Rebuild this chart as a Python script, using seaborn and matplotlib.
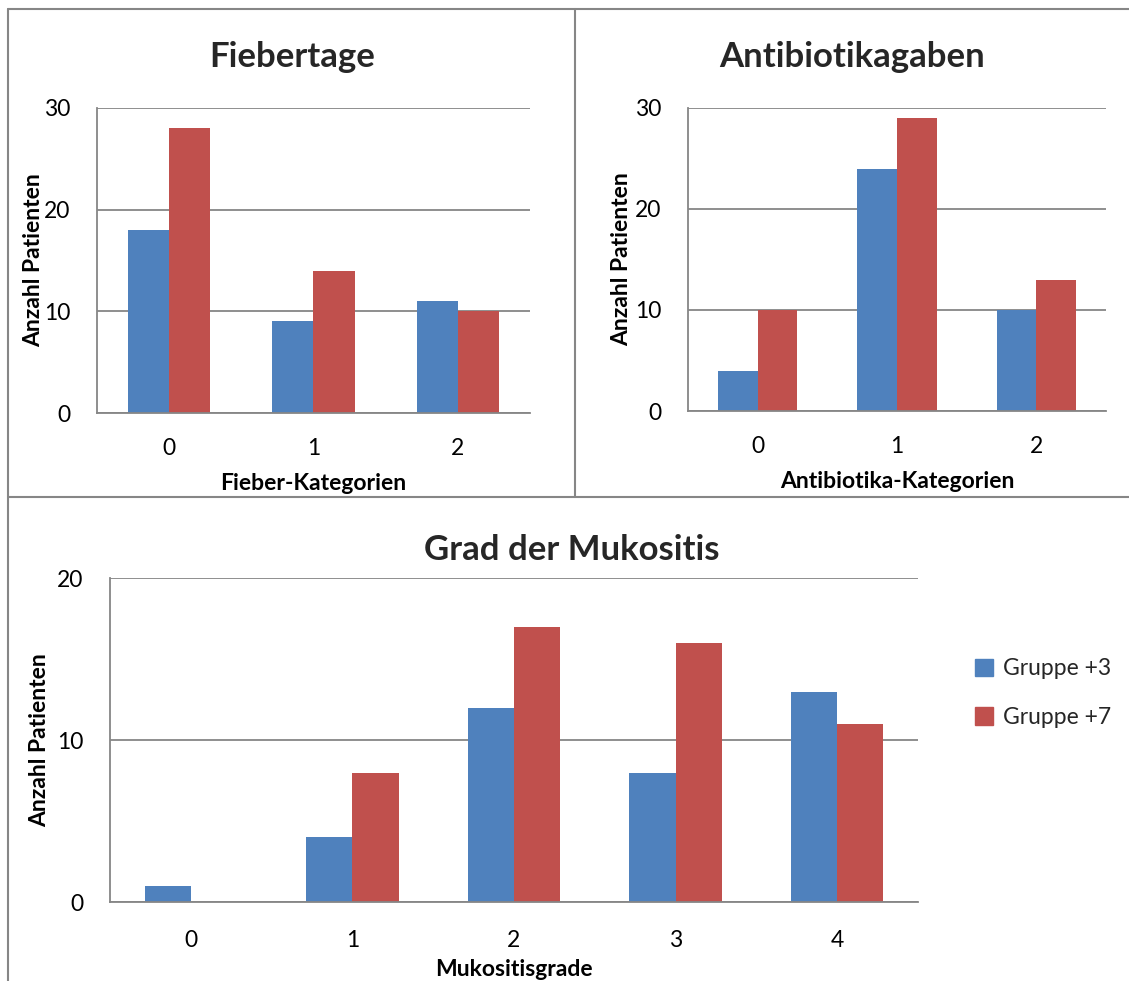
import matplotlib
matplotlib.use("Agg")
import matplotlib.pyplot as plt
from matplotlib.lines import Line2D
import seaborn as sns
import pandas as pd

# ---- data ----
groups = ["Gruppe +3", "Gruppe +7"]

fieber_cats = ["0", "1", "2"]
fieber_g3 = [18, 9, 11]
fieber_g7 = [28, 14, 10]

anti_cats = ["0", "1", "2"]
anti_g3 = [4, 24, 10]
anti_g7 = [10, 29, 13]

muk_cats = ["0", "1", "2", "3", "4"]
muk_g3 = [1, 4, 12, 8, 13]
muk_g7 = [0, 8, 17, 16, 11]

colors = ["#4F81BD", "#C0504D"]
GRAY = "#868686"
FONT = "Lato"

sns.set_theme(style="white")
plt.rcParams["font.family"] = [FONT, "DejaVu Sans"]


def long_df(cats, a, b):
    return pd.DataFrame({
        "cat": cats + cats,
        "val": a + b,
        "grp": [groups[0]] * len(cats) + [groups[1]] * len(cats),
    })


fig = plt.figure(figsize=(11.29, 9.81), dpi=100)


def make_axes(rect, cats, a, b, ymax, yticks, xlabel, ylpad, xtpad):
    ax = fig.add_axes(rect)
    df = long_df(cats, a, b)
    sns.barplot(data=df, x="cat", y="val", hue="grp", order=cats,
                hue_order=groups, palette=colors, width=0.571,
                saturation=1, edgecolor="none", linewidth=0, ax=ax,
                legend=False)
    n = len(cats)
    ax.set_xlim(-0.5, n - 0.5)
    ax.set_ylim(0, ymax)
    ax.set_yticks(yticks)
    ax.set_yticklabels([str(t) for t in yticks], fontsize=16.5, color="black")
    ax.set_xticks(range(n))
    ax.set_xticklabels(cats, fontsize=16.5, color="black")
    ax.set_xticks([i - 0.5 for i in range(n + 1)], minor=True)
    ax.tick_params(axis="x", which="major", length=0, pad=xtpad)
    ax.tick_params(axis="x", which="minor", length=7, width=1.3,
                   color=GRAY, direction="out")
    ax.tick_params(axis="y", which="major", length=7, width=1.3,
                   color=GRAY, direction="out", pad=12)
    ax.yaxis.grid(True, color=GRAY, linewidth=1.3)
    ax.set_axisbelow(True)
    for s in ["top", "right"]:
        ax.spines[s].set_visible(False)
    for s in ["left", "bottom"]:
        ax.spines[s].set_color(GRAY)
        ax.spines[s].set_linewidth(1.3)
    ax.set_xlabel(xlabel, fontsize=16.5, fontweight="bold", labelpad=10,
                  color="black")
    ax.set_ylabel("Anzahl Patienten", fontsize=16.5, fontweight="bold",
                  color="black", labelpad=ylpad)
    return ax


ax1 = make_axes([0.0859, 0.579, 0.3835, 0.311], fieber_cats, fieber_g3,
                fieber_g7, 30, [0, 10, 20, 30], "Fieber-Kategorien", 0, 18)
ax2 = make_axes([0.6094, 0.581, 0.3702, 0.309], anti_cats, anti_g3,
                anti_g7, 30, [0, 10, 20, 30], "Antibiotika-Kategorien", 2, 18)
ax3 = make_axes([0.0974, 0.0805, 0.7157, 0.330], muk_cats, muk_g3,
                muk_g7, 20, [0, 10, 20], "Mukositisgrade", 5, 20)
ax3.xaxis.labelpad = 6

# titles centred in each chart area
fig.text(292 / 1129, 1 - 57 / 981, "Fiebertage", ha="center", va="center",
         fontsize=25, fontweight="bold")
fig.text(852 / 1129, 1 - 57 / 981, "Antibiotikagaben", ha="center",
         va="center", fontsize=25, fontweight="bold")
fig.text(572 / 1129, 1 - 550 / 981, "Grad der Mukositis", ha="center",
         va="center", fontsize=25, fontweight="bold")

# legend
handles = [plt.Rectangle((0, 0), 1, 1, color=c) for c in colors]
fig.legend(handles, groups, loc="center left",
           bbox_to_anchor=(954 / 1129, 1 - 693 / 981), frameon=False,
           fontsize=16.5, handlelength=0.8, handleheight=0.8,
           handletextpad=0.45, labelspacing=1.2)

# chart-area borders
def fline(x0, y0, x1, y1):
    fig.add_artist(Line2D([x0 / 1129, x1 / 1129], [1 - y0 / 981, 1 - y1 / 981],
                          color=GRAY, linewidth=1.5))

fline(8, 9, 1129, 9)
fline(8, 9, 8, 981)
fline(575, 9, 575, 497)
fline(8, 497, 1129, 497)

fig.savefig("out.png", dpi=100)
